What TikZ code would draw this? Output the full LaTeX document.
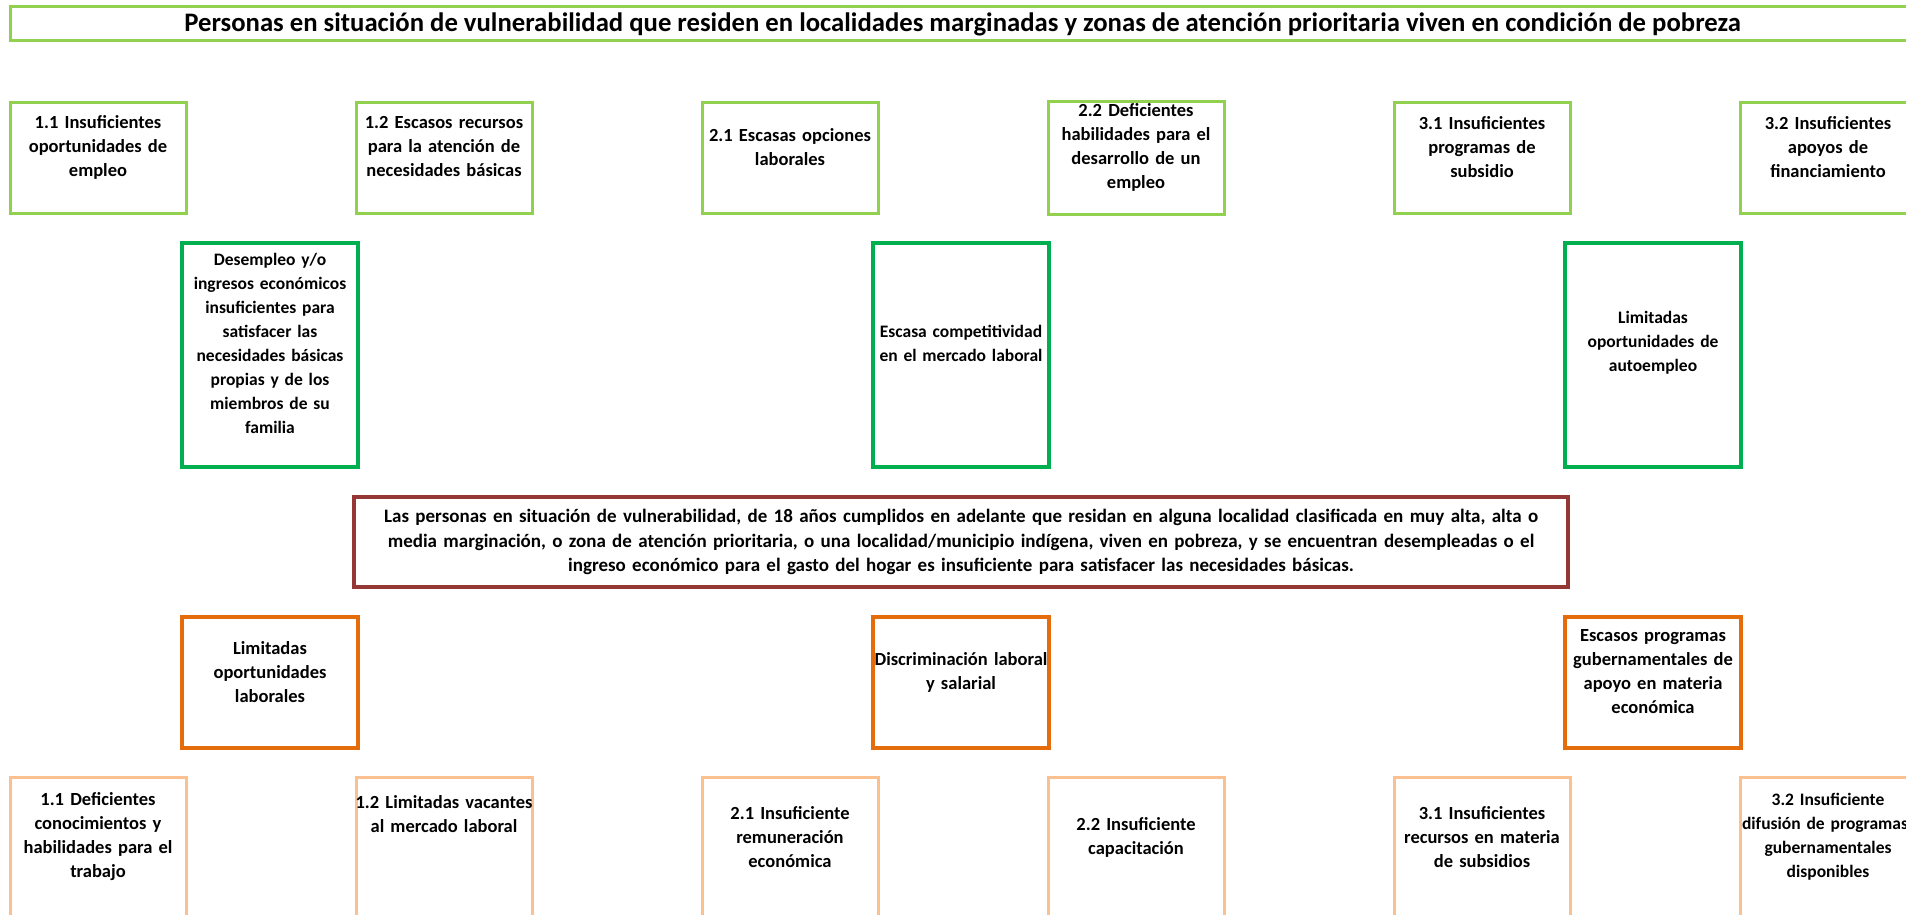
\documentclass[tikz,border=0pt]{standalone}
\usepackage{fontspec}
\setmainfont{Carlito}
\usepackage{tikz}

\definecolor{verdeclaro}{HTML}{92D050}
\definecolor{verdeoscuro}{HTML}{00B050}
\definecolor{rojoproblema}{HTML}{953735}
\definecolor{naranja}{HTML}{E46C0A}
\definecolor{naranjaclaro}{HTML}{FAC090}

\newcommand{\espaciofinal}[1]{\par\kern#1}

\tikzstyle{titulo} = [rectangle, minimum width=1905pt, minimum height=34pt, text centered, draw=verdeclaro, line width=3pt, font=\bfseries\fontsize{26.7}{30}\selectfont]
\tikzstyle{caja} = [rectangle, minimum width=176pt, text width=200pt, inner xsep=-12pt, inner ysep=2pt, align=center, font=\bfseries\fontsize{18.5}{24}\selectfont]
\tikzstyle{subefecto} = [caja, minimum height=110pt, draw=verdeclaro, line width=3pt, execute at end node={\espaciofinal{22pt}}]
\tikzstyle{efecto} = [caja, minimum height=224pt, draw=verdeoscuro, line width=4.5pt, font=\bfseries\fontsize{17.5}{24}\selectfont, execute at end node={\espaciofinal{24pt}}]
\tikzstyle{problema} = [rectangle, minimum width=1214pt, minimum height=90pt, text width=1200pt, align=center, draw=rojoproblema, line width=4.5pt, font=\bfseries\fontsize{19}{24.5}\selectfont]
\tikzstyle{causa} = [caja, minimum height=131pt, draw=naranja, line width=4.5pt, execute at end node={\espaciofinal{21pt}}]
\tikzstyle{subcausa} = [caja, minimum height=142pt, draw=naranjaclaro, line width=3pt, execute at end node={\espaciofinal{22pt}}]

\begin{document}
\begin{tikzpicture}[node distance=346pt]

    \useasboundingbox (0,0) rectangle (1906pt,-915pt);

    \node (tit) [titulo] at (962.5pt,-24pt) {Personas en situación de vulnerabilidad que residen en localidades marginadas y zonas de atención prioritaria viven en condición de pobreza};

    % efectos
    \node (se11) [subefecto] at (98pt,-158pt) {1.1 Insuficientes\\oportunidades de\\empleo};
    \node (se12) [subefecto, right of=se11] {1.2 Escasos recursos\\para la atención de\\necesidades básicas};
    \node (se21) [subefecto, right of=se12] {2.1 Escasas opciones\\laborales};
    \node (se22) [subefecto, right of=se21] {2.2 Deficientes\\habilidades para el\\desarrollo de un\\empleo};
    \node (se31) [subefecto, right of=se22] {3.1 Insuficientes\\programas de\\subsidio};
    \node (se32) [subefecto, right of=se31] {3.2 Insuficientes\\apoyos de\\financiamiento};

    \node (ef1) [efecto, below of=se11, xshift=172pt, yshift=149pt] {Desempleo y/o\\ingresos económicos\\insuficientes para\\satisfacer las\\necesidades básicas\\propias y de los\\miembros de su\\familia};
    \node (ef2) [efecto, right of=ef1, xshift=345pt] {Escasa competitividad\\en el mercado laboral};
    \node (ef3) [efecto, right of=ef2, xshift=346pt] {Limitadas\\oportunidades de\\autoempleo};

    % problema central
    \node (prob) [problema, below of=ef2, yshift=159pt] {Las personas en situación de vulnerabilidad, de 18 años cumplidos en adelante que residan en alguna localidad clasificada en muy alta, alta o\\media marginación, o zona de atención prioritaria, o una localidad/municipio indígena, viven en pobreza, y se encuentran desempleadas o el\\ingreso económico para el gasto del hogar es insuficiente para satisfacer las necesidades básicas.};

    % causas
    \node (ca1) [causa, below of=ef1, yshift=18.5pt] {Limitadas\\oportunidades\\laborales};
    \node (ca2) [causa, right of=ca1, xshift=345pt] {Discriminación laboral\\y salarial};
    \node (ca3) [causa, right of=ca2, xshift=346pt] {Escasos programas\\gubernamentales de\\apoyo en materia\\económica};

    \node (sc11) [subcausa, below of=ca1, xshift=-172pt, yshift=180.5pt] {1.1 Deficientes\\conocimientos y\\habilidades para el\\trabajo};
    \node (sc12) [subcausa, right of=sc11, execute at end node={\espaciofinal{46pt}}] {1.2 Limitadas vacantes\\al mercado laboral};
    \node (sc21) [subcausa, right of=sc12] {2.1 Insuficiente\\remuneración\\económica};
    \node (sc22) [subcausa, right of=sc21] {2.2 Insuficiente\\capacitación};
    \node (sc31) [subcausa, right of=sc22] {3.1 Insuficientes\\recursos en materia\\de subsidios};
    \node (sc32) [subcausa, right of=sc31, font=\bfseries\fontsize{17.5}{24}\selectfont] {3.2 Insuficiente\\\hspace*{-6pt}difusión de programas\\gubernamentales\\disponibles};

\end{tikzpicture}
\end{document}
